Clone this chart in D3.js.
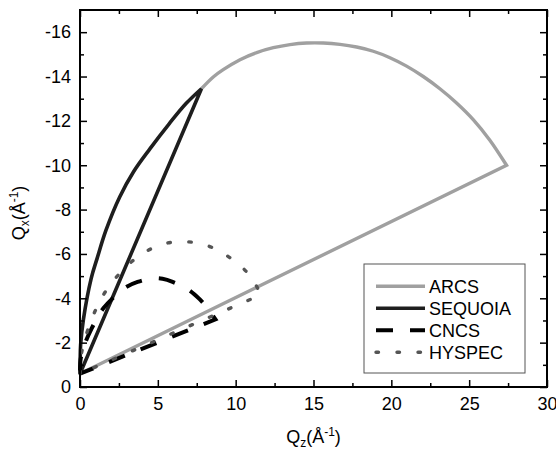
<!DOCTYPE html>
<html>
<head>
<meta charset="utf-8">
<script src="https://cdn.jsdelivr.net/npm/d3@7"></script>
<style>
  body { margin: 0; background: #fff; }
  svg text { font-family: Arial, "Liberation Sans", sans-serif; fill: #000; }
</style>
</head>
<body>
<div id="chart"></div>
<script>
// instrument names (legend order)
const seriesNames = ['ARCS', 'SEQUOIA', 'CNCS', 'HYSPEC'];

// ARCS: arc from the SEQUOIA tip round to the corner, then straight back to the origin
const arcsQz = [7.8, 8.56, 9.2, 10.28, 11.35, 12.42, 13.49, 14.56, 15.63, 16.7, 17.77, 18.84, 19.91, 20.98, 22.05, 23.12, 24.19, 25.26, 26.33, 27.4, 0];
const arcsQx = [-13.45, -13.98, -14.31, -14.76, -15.08, -15.3, -15.44, -15.51, -15.51, -15.45, -15.33, -15.14, -14.85, -14.47, -14.0, -13.45, -12.81, -12.06, -11.13, -10.0, -0.6];

// SEQUOIA: curved left edge up to the tip, straight edge back down
const sequoiaQz = [0, 0.01, 0.04, 0.22, 0.72, 1.1, 1.67, 2.55, 3.45, 4.5, 5.74, 6.81, 7.8, 0];
const sequoiaQx = [-0.6, -1.2, -1.9, -3.05, -4.9, -5.8, -7.07, -8.57, -9.72, -10.75, -11.88, -12.78, -13.45, -0.6];

// CNCS
const cncsQz = [0, 0.03, 0.15, 0.32, 0.75, 1.1, 1.5, 2.4, 3.0, 3.7, 4.67, 5.3, 5.95, 7.0, 7.7, 8.14, 8.7, 0];
const cncsQx = [-0.6, -1.2, -1.6, -1.97, -2.64, -3.1, -3.55, -4.2, -4.52, -4.74, -4.9, -4.88, -4.74, -4.37, -3.95, -3.6, -3.05, -0.6];

// HYSPEC
const hyspecQz = [0, 0.03, 0.1, 0.3, 0.5, 1.0, 1.7, 2.75, 3.4, 4.13, 4.8, 5.48, 6.1, 6.81, 7.5, 8.2, 8.9, 9.55, 10.25, 10.88, 11.3, 11.6, 0];
const hyspecQx = [-0.6, -1.0, -1.53, -2.1, -2.57, -3.47, -4.37, -5.28, -5.7, -6.07, -6.3, -6.47, -6.54, -6.55, -6.5, -6.37, -6.15, -5.87, -5.5, -5.05, -4.6, -4.15, -0.6];

// axis ticks
const xTicks = [0, 5, 10, 15, 20, 25, 30];
const xMinorTicks = [2.5, 7.5, 12.5, 17.5, 22.5, 27.5];
const yTicks = [-16, -14, -12, -10, -8, -6, -4, -2, 0];
const yMinorTicks = [-15, -13, -11, -9, -7, -5, -3, -1];

// set the dimensions and margins of the graph
const width = 556, height = 455;
const margin = { top: 10, right: 9, bottom: 68, left: 80 };
const fontSize = 18, smallSize = 12;

const svg = d3.select('#chart').append('svg')
  .attr('width', width)
  .attr('height', height);

const x = d3.scaleLinear().domain([0, 30]).range([margin.left, width - margin.right]);
const y = d3.scaleLinear().domain([0, -17]).range([height - margin.bottom, margin.top]);

const series = [
  { name: seriesNames[0], qz: arcsQz, qx: arcsQx, color: '#a0a0a0', w: 3.4, dash: null, cap: 'butt' },
  { name: seriesNames[1], qz: sequoiaQz, qx: sequoiaQx, color: '#1e1e1e', w: 3.6, dash: null, cap: 'butt' },
  { name: seriesNames[2], qz: cncsQz, qx: cncsQx, color: '#000', w: 4, dash: '17 17', cap: 'butt' },
  { name: seriesNames[3], qz: hyspecQz, qx: hyspecQx, color: '#555', w: 3.4, dash: '2.5 18.5', cap: 'round' }
];

// smooth curve through the read points, last leg is a straight edge back to the origin
const curve = d3.line()
  .x(d => x(d[0]))
  .y(d => y(d[1]))
  .curve(d3.curveCatmullRom.alpha(0.5));

function outline(pts) {
  const last = pts[pts.length - 1];
  return curve(pts.slice(0, -1)) + `L${x(last[0])},${y(last[1])}`;
}

// plot the boundaries
series.forEach(s => {
  svg.append('path')
    .attr('d', outline(s.qz.map((v, i) => [v, s.qx[i]])))
    .attr('fill', 'none')
    .attr('stroke', s.color)
    .attr('stroke-width', s.w)
    .attr('stroke-linejoin', 'miter')
    .attr('stroke-linecap', s.cap)
    .attr('stroke-dasharray', s.dash);
});

// axes, ticks pointing inward on all four sides
function styleAxis(g) {
  g.select('.domain').remove();
  g.selectAll('.tick line').attr('stroke', '#000').attr('stroke-width', 1.5);
  g.selectAll('.tick text').attr('font-size', fontSize);
}

const yBase = y(0), yTop = y(-17), xLeft = x(0), xRight = x(30);

svg.append('g').attr('transform', `translate(0,${yBase})`)
  .call(d3.axisBottom(x).tickValues(xTicks).tickSize(-7).tickPadding(10).tickFormat(d => String(d)))
  .call(styleAxis);
svg.append('g').attr('transform', `translate(0,${yBase})`)
  .call(d3.axisBottom(x).tickValues(xMinorTicks).tickSize(-4).tickFormat(''))
  .call(styleAxis);
svg.append('g').attr('transform', `translate(0,${yTop})`)
  .call(d3.axisTop(x).tickValues(xTicks).tickSize(-7).tickFormat(''))
  .call(styleAxis);
svg.append('g').attr('transform', `translate(0,${yTop})`)
  .call(d3.axisTop(x).tickValues(xMinorTicks).tickSize(-4).tickFormat(''))
  .call(styleAxis);

svg.append('g').attr('transform', `translate(${xLeft},0)`)
  .call(d3.axisLeft(y).tickValues(yTicks).tickSize(-7).tickPadding(9).tickFormat(d => String(d)))
  .call(styleAxis);
svg.append('g').attr('transform', `translate(${xLeft},0)`)
  .call(d3.axisLeft(y).tickValues(yMinorTicks).tickSize(-4).tickFormat(''))
  .call(styleAxis);
svg.append('g').attr('transform', `translate(${xRight},0)`)
  .call(d3.axisRight(y).tickValues(yTicks).tickSize(-7).tickFormat(''))
  .call(styleAxis);
svg.append('g').attr('transform', `translate(${xRight},0)`)
  .call(d3.axisRight(y).tickValues(yMinorTicks).tickSize(-4).tickFormat(''))
  .call(styleAxis);

// frame
svg.append('rect')
  .attr('x', xLeft).attr('y', yTop)
  .attr('width', xRight - xLeft).attr('height', yBase - yTop)
  .attr('fill', 'none').attr('stroke', '#000').attr('stroke-width', 2);

// axis titles
function qLabel(t, sub) {
  t.append('tspan').text('Q');
  t.append('tspan').attr('font-size', smallSize).attr('dy', 4).text(sub);
  t.append('tspan').attr('dy', -4).text('(Å');
  t.append('tspan').attr('font-size', smallSize).attr('dy', -7).text('-1');
  t.append('tspan').attr('dy', 7).text(')');
}

svg.append('text')
  .attr('x', (xLeft + xRight) / 2).attr('y', 443)
  .attr('text-anchor', 'middle').attr('font-size', fontSize)
  .call(qLabel, 'z');

svg.append('text')
  .attr('transform', 'translate(25,213) rotate(-90)')
  .attr('text-anchor', 'middle').attr('font-size', fontSize)
  .call(qLabel, 'x');

// legend
const legend = svg.append('g').attr('transform', 'translate(364,264)');
legend.append('rect')
  .attr('width', 161).attr('height', 109)
  .attr('fill', '#fff').attr('stroke', '#555').attr('stroke-width', 1);

const rows = legend.selectAll('g.row')
  .data(series)
  .enter().append('g')
  .attr('class', 'row')
  .attr('transform', (d, i) => `translate(0,${22.3 + i * 22})`);

rows.append('line')
  .attr('x1', 12).attr('x2', 61)
  .attr('stroke', d => d.color)
  .attr('stroke-width', d => d.w)
  .attr('stroke-linecap', d => d.cap)
  .attr('stroke-dasharray', d => d.dash);

rows.append('text')
  .attr('x', 65).attr('dy', '0.36em')
  .attr('font-size', fontSize)
  .text(d => d.name);
</script>
</body>
</html>
